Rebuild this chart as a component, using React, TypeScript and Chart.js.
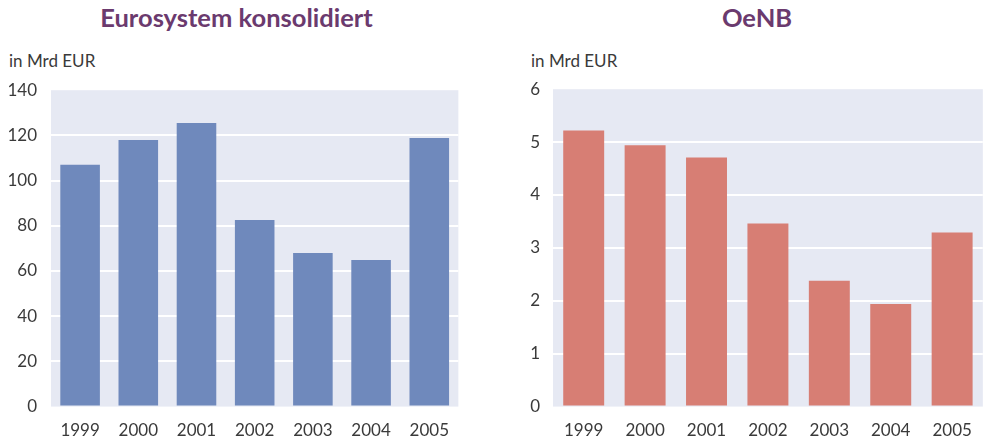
import React, { useEffect, useRef } from 'react';
import { Chart, registerables } from 'chart.js';

Chart.register(...registerables);

const years = ['1999', '2000', '2001', '2002', '2003', '2004', '2005'];
const euroValues = [107, 118, 125.5, 82.6, 68, 64.9, 118.8];
const oenbValues = [5.22, 4.94, 4.71, 3.46, 2.38, 1.94, 3.29];
const euroTitle = 'Eurosystem konsolidiert';
const oenbTitle = 'OeNB';
const unitLabel = 'in Mrd EUR';

const FONT = 'Lato, "Open Sans", sans-serif';
const TEXT = '#3a3a3a';

const bgPlugin = {
  id: 'plotBg',
  beforeDraw(chart: any) {
    const { ctx, chartArea } = chart;
    ctx.save();
    ctx.fillStyle = '#e6e9f3';
    ctx.fillRect(chartArea.left, chartArea.top, chartArea.right - chartArea.left, chartArea.bottom - chartArea.top);
    ctx.restore();
  },
};

type PanelProps = {
  left: number;
  width: number;
  axisWidth: number;
  tickPad: number;
  padRight: number;
  values: number[];
  color: string;
  max: number;
  step: number;
  barPct: number;
};

function BarPanel(p: PanelProps) {
  const ref = useRef<HTMLCanvasElement | null>(null);
  useEffect(() => {
    if (!ref.current) return;
    const chart = new Chart(ref.current, {
      type: 'bar',
      data: {
        labels: years,
        datasets: [
          {
            data: p.values,
            backgroundColor: p.color,
            borderWidth: 0,
            barPercentage: p.barPct,
            categoryPercentage: 1,
          },
        ],
      },
      options: {
        animation: false,
        responsive: false,
        layout: { padding: { top: 14, right: p.padRight, bottom: 0, left: 0 } },
        plugins: { legend: { display: false }, tooltip: { enabled: false } },
        scales: {
          x: {
            grid: { display: false, drawTicks: false },
            border: { display: false },
            ticks: { color: TEXT, font: { family: FONT, size: 17 }, padding: 14, maxRotation: 0 },
          },
          y: {
            min: 0,
            max: p.max,
            afterFit(scale: any) {
              scale.width = p.axisWidth;
            },
            border: { display: false },
            grid: {
              drawTicks: false,
              lineWidth: 2,
              color: (c: any) =>
                c.tick && (c.tick.value === 0 || c.tick.value === p.max) ? 'rgba(0,0,0,0)' : '#ffffff',
            },
            ticks: { stepSize: p.step, color: TEXT, font: { family: FONT, size: 17 }, padding: p.tickPad },
          },
        },
      },
      plugins: [bgPlugin],
    });
    return () => chart.destroy();
  }, []);
  return (
    <canvas
      ref={ref}
      width={p.width}
      height={389}
      style={{ position: 'absolute', left: p.left, top: 66, width: p.width, height: 389 }}
    />
  );
}

export default function App() {
  const titleStyle: React.CSSProperties = {
    position: 'absolute',
    top: 2,
    fontFamily: FONT,
    fontWeight: 700,
    fontSize: 25.5,
    color: '#6b3a6e',
    textAlign: 'center',
    whiteSpace: 'nowrap',
  };
  const unitStyle: React.CSSProperties = {
    position: 'absolute',
    top: 50,
    fontFamily: FONT,
    fontSize: 17,
    color: TEXT,
    whiteSpace: 'nowrap',
  };
  return (
    <div style={{ position: 'fixed', left: 0, top: 0, width: 986, height: 440, background: '#fff', overflow: 'hidden' }}>
      <div style={{ ...titleStyle, left: 0, width: 473 }}>{euroTitle}</div>
      <div style={{ ...titleStyle, left: 493, width: 528 }}>{oenbTitle}</div>
      <div style={{ ...unitStyle, left: 9 }}>{unitLabel}</div>
      <div style={{ ...unitStyle, left: 531 }}>{unitLabel}</div>
      <BarPanel left={0} width={463} axisWidth={51} tickPad={14} padRight={0} values={euroValues} color="#6f89bc" max={140} step={20} barPct={0.68} />
      <BarPanel left={493} width={493} axisWidth={60} tickPad={13} padRight={2} values={oenbValues} color="#d77e74" max={6} step={1} barPct={0.667} />
    </div>
  );
}
